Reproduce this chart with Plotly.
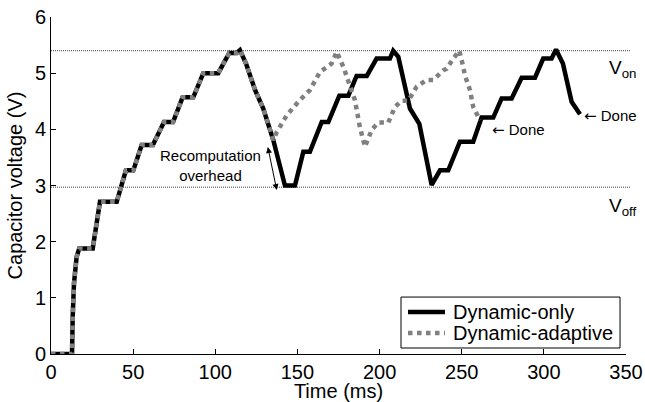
import plotly.graph_objects as go

# ---- data ----
t_only = [0, 12.8, 13.2, 14.0, 15.6, 17.2, 25.4, 29.8, 40.0, 45.6, 50.1, 55.2, 62.0, 68.8, 74.3,
          80.1, 86.6, 92.7, 101.8, 108.5, 113.0, 115.0, 118.7, 124.2, 129.2, 135.3,
          142.4, 148.5, 153.6, 157.6, 164.8, 168.8, 175.5, 181.0, 186.0, 192.2, 198.2, 206.3,
          208.3, 211.4, 215.5, 218.5, 224.2, 227.6, 231.7, 236.8, 241.8, 248.9, 257.0, 262.1,
          269.2, 274.3, 280.4, 286.5, 294.6, 299.6, 304.7, 307.4, 311.6, 316.9, 322.0]
v_only = [0, 0, 0.66, 1.26, 1.73, 1.88, 1.88, 2.71, 2.71, 3.27, 3.27, 3.72, 3.72, 4.13, 4.13,
          4.57, 4.57, 5.00, 5.00, 5.36, 5.36, 5.41, 5.17, 4.70, 4.37, 3.81,
          3.00, 3.00, 3.60, 3.60, 4.13, 4.13, 4.60, 4.60, 4.95, 4.95, 5.26, 5.26,
          5.40, 5.29, 4.76, 4.37, 4.10, 3.57, 3.01, 3.27, 3.27, 3.78, 3.78, 4.21,
          4.21, 4.55, 4.55, 4.92, 4.92, 5.26, 5.26, 5.42, 5.17, 4.49, 4.27]

t_adapt = [0, 12.8, 13.2, 14.0, 15.6, 17.2, 25.4, 29.8, 40.0, 45.6, 50.1, 55.2, 62.0, 68.8, 74.3,
           80.1, 86.6, 92.7, 101.8, 108.5, 113.0, 115.0, 118.7, 124.2, 129.2, 135.3,
           137.4, 143.5, 150.5, 157.6, 163.7, 170.8, 173.9, 178.0, 185.0, 188.0, 191.1,
           195.2, 199.2, 205.3, 209.4, 213.4, 217.5, 222.6, 228.7, 232.7, 238.8, 240.8,
           244.9, 248.5, 250.0, 252.0, 255.0, 257.0, 261.1]
v_adapt = [0, 0, 0.66, 1.26, 1.73, 1.88, 1.88, 2.71, 2.71, 3.27, 3.27, 3.72, 3.72, 4.13, 4.13,
           4.57, 4.57, 5.00, 5.00, 5.36, 5.36, 5.41, 5.17, 4.70, 4.37, 3.81,
           3.95, 4.25, 4.49, 4.70, 5.02, 5.17, 5.38, 5.11, 4.52, 4.04, 3.69,
           3.99, 4.12, 4.12, 4.40, 4.51, 4.51, 4.76, 4.88, 4.88, 5.05, 5.08,
           5.26, 5.40, 5.23, 4.96, 4.70, 4.40, 4.16]

series_names = ["Dynamic-only", "Dynamic-adaptive"]
v_on = 5.40
v_off = 2.97
x_ticks = [0, 50, 100, 150, 200, 250, 300, 350]
y_ticks = [0, 1, 2, 3, 4, 5, 6]

FONT = "Liberation Sans, Arial, sans-serif"
BLACK_LINE = dict(color="black", width=4.5)
GREY_LINE = dict(color="#808080", width=4.5, dash="dot")

fig = go.Figure()
fig.add_trace(go.Scatter(x=t_only, y=v_only, mode="lines", name=series_names[0],
                         line=BLACK_LINE, cliponaxis=False, showlegend=False, hoverinfo="skip"))
fig.add_trace(go.Scatter(x=t_adapt, y=v_adapt, mode="lines", name=series_names[1],
                         line=GREY_LINE, cliponaxis=False, showlegend=False, hoverinfo="skip"))

for yv in (v_on, v_off):
    fig.add_shape(type="line", xref="paper", yref="y", x0=0, x1=1.007, y0=yv, y1=yv,
                  line=dict(color="#444444", width=1, dash="1px,1px"), layer="below")

ann_font = dict(family=FONT, size=15, color="black")
ARROW = "<span style='font-family:DejaVu Sans'>\u2190</span> Done"
fig.add_annotation(x=96.8, y=3.35, xref="x", yref="y", text="Recomputation<br>overhead",
                   showarrow=False, font=ann_font)
fig.add_annotation(x=137.4, y=2.92, ax=131.8, ay=3.71, xref="x", yref="y", axref="x", ayref="y",
                   text="", showarrow=True, arrowside="end+start", arrowhead=2, arrowsize=1.2,
                   arrowwidth=1, arrowcolor="black")
fig.add_annotation(x=267.0, y=3.99, xref="x", yref="y", text=ARROW, xanchor="left",
                   showarrow=False, font=ann_font)
fig.add_annotation(x=323.5, y=4.23, xref="x", yref="y", text=ARROW, xanchor="left",
                   showarrow=False, font=ann_font)
fig.add_annotation(x=338.5, y=5.08, xref="x", yref="y", text="V<sub>on</sub>", xanchor="left",
                   showarrow=False, font=dict(family=FONT, size=19, color="black"))
fig.add_annotation(x=338.5, y=2.62, xref="x", yref="y", text="V<sub>off</sub>", xanchor="left",
                   showarrow=False, font=dict(family=FONT, size=19, color="black"))

# ---- legend box (drawn to match the compact reference legend) ----
fig.add_shape(type="rect", xref="paper", yref="paper", x0=0.6087, x1=0.9896, y0=0.0178, y1=0.169,
              line=dict(color="black", width=1), fillcolor="white", layer="above")
for name, style, yrow in ((series_names[0], BLACK_LINE, 0.1246), (series_names[1], GREY_LINE, 0.0623)):
    fig.add_shape(type="line", xref="paper", yref="paper", x0=0.6209, x1=0.6852, y0=yrow, y1=yrow,
                  line=style, layer="above")
    fig.add_annotation(x=0.6955, y=yrow, xref="paper", yref="paper", text=name, xanchor="left",
                       yanchor="middle", showarrow=False,
                       font=dict(family=FONT, size=20, color="black"))

axis_common = dict(showline=True, linecolor="black", linewidth=1, ticks="inside", ticklen=5,
                   tickcolor="black", showgrid=False, zeroline=False, mirror=False, automargin=False,
                   tickfont=dict(family=FONT, size=20, color="black"))
fig.update_xaxes(range=[0, 350], tickvals=x_ticks, title=dict(text="Time (ms)", standoff=0,
                 font=dict(family=FONT, size=20, color="black")), **axis_common)
fig.update_yaxes(range=[0, 6], tickvals=y_ticks, title=dict(text="Capacitor voltage (V)", standoff=6,
                 font=dict(family=FONT, size=20, color="black")), **axis_common)

fig.update_layout(
    template="none",
    width=645, height=402,
    margin=dict(l=51, r=19, t=17, b=48),
    paper_bgcolor="white", plot_bgcolor="white",
    font=dict(family=FONT, size=20, color="black"),
    showlegend=False,
    hovermode=False,
)

fig.write_html("out.html", config={"displayModeBar": False, "staticPlot": True},
               post_script="document.body.style.margin='0';document.body.style.overflow='hidden';")
